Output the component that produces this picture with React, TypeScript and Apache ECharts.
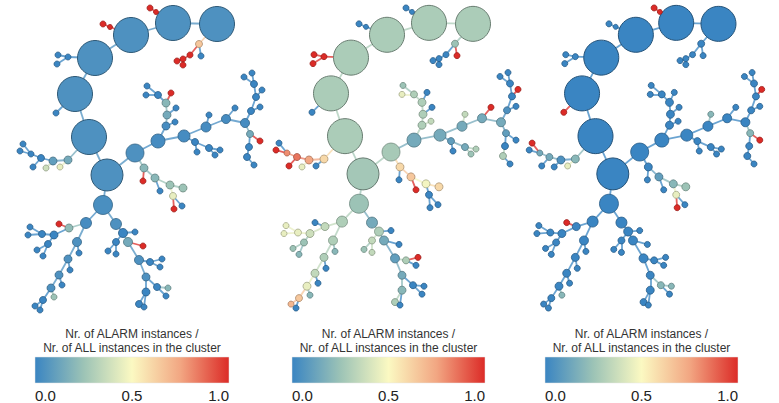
import React, { useEffect, useRef } from 'react';
import * as echarts from 'echarts';

// Tree layout (shared by the three panels): [id, parent, x, y, diameter]
const NODES: [string, string, number, number, number][] = [
  // spine of large clusters
  ['C1', '', 217, 24, 35], ['C2', 'C1', 173, 23, 35], ['C3', 'C2', 131, 35, 35],
  ['C4', 'C3', 95, 58, 35], ['C5', 'C4', 75, 94, 35], ['C6', 'C5', 89, 137, 35],
  ['C7', 'C6', 107, 175, 32], ['C8', 'C7', 103, 205, 19], ['H', 'C7', 135, 153, 18],
  // leaves on the spine
  ['L1a', 'C1', 199, 44, 7], ['L1b', 'L1a', 190, 55, 6], ['L1c', 'L1a', 201, 56, 6],
  ['L1d', 'L1b', 183, 59, 6], ['L1e', 'L1d', 177, 61, 6], ['L1f', 'L1d', 183, 65, 6],
  ['L2a', 'C2', 156, 12, 5], ['L2b', 'L2a', 150, 8, 6],
  ['L3a', 'C3', 110, 27, 5], ['L3b', 'L3a', 103, 24, 6],
  ['L4a', 'C4', 68, 57, 6], ['L4b', 'L4a', 58, 55, 6], ['L4c', 'L4a', 57, 64, 6],
  ['L5', 'C5', 56, 113, 6],
  // left chain
  ['K1', 'C6', 68, 160, 8], ['K2', 'K1', 53, 161, 8], ['K3', 'K1', 60, 167, 6],
  ['K4', 'K2', 46, 168, 6], ['K5', 'K2', 41, 158, 7], ['K6', 'K5', 31, 154, 6],
  ['K7', 'K6', 20, 151, 6], ['K8', 'K6', 23, 144, 6], ['K9', 'K5', 33, 167, 6],
  // lower-left branch
  ['B1', 'C8', 86, 223, 11], ['B2', 'B1', 69, 228, 8], ['B3', 'B2', 59, 224, 6],
  ['B4', 'B2', 54, 235, 8], ['B5', 'B4', 42, 234, 7], ['B6', 'B5', 30, 227, 6],
  ['B7', 'B5', 28, 235, 6], ['B8', 'B4', 48, 244, 7], ['B9', 'B8', 37, 250, 6],
  ['B10', 'B8', 43, 256, 6],
  ['D1', 'B1', 77, 242, 9], ['D2', 'D1', 79, 253, 6], ['D3', 'D1', 68, 259, 8],
  ['D4', 'D3', 70, 270, 6], ['D5', 'D3', 59, 275, 8], ['D6', 'D5', 62, 285, 6],
  ['D7', 'D5', 51, 288, 8], ['D8', 'D7', 54, 297, 6], ['D9', 'D7', 43, 300, 7],
  ['D10', 'D9', 35, 306, 6], ['D11', 'D9', 40, 310, 6],
  // lower-right branch
  ['E1', 'C8', 116, 224, 11], ['E2', 'E1', 123, 233, 9], ['E3', 'E2', 135, 232, 6],
  ['E4', 'E2', 128, 242, 9], ['E5', 'E4', 143, 246, 6], ['E6', 'E2', 116, 242, 7],
  ['E7', 'E6', 108, 251, 6], ['E8', 'E6', 116, 254, 6], ['E9', 'E4', 139, 260, 9],
  ['E10', 'E9', 150, 262, 7], ['E11', 'E10', 162, 259, 6], ['E12', 'E10', 160, 267, 6],
  ['E13', 'E9', 146, 277, 8], ['E14', 'E13', 157, 287, 7], ['E15', 'E14', 168, 288, 6],
  ['E16', 'E14', 166, 296, 6], ['E17', 'E13', 146, 292, 8], ['E18', 'E17', 139, 304, 7],
  ['E19', 'E17', 144, 307, 6],
  // right branch
  ['H1', 'H', 158, 141, 14], ['H2', 'H1', 184, 136, 12], ['H3', 'H2', 206, 127, 10],
  ['H4', 'H3', 226, 119, 9], ['H5', 'H4', 245, 123, 9],
  ['V1', 'H1', 166, 126, 8], ['V2', 'V1', 167, 115, 8], ['V3', 'V2', 166, 103, 8],
  ['V4', 'V3', 158, 95, 7], ['V5', 'V4', 147, 86, 6], ['V6', 'V4', 146, 95, 6],
  ['V7', 'V3', 171, 93, 6], ['V8', 'V1', 175, 122, 6], ['V9', 'V2', 176, 108, 6],
  ['W1', 'H2', 195, 142, 7], ['W2', 'W1', 197, 152, 6], ['W3', 'W1', 209, 148, 7],
  ['W4', 'W3', 215, 155, 6], ['W5', 'W3', 220, 150, 6],
  ['X1', 'H3', 209, 115, 6], ['X2', 'H4', 235, 108, 6],
  ['R1', 'H5', 251, 111, 7], ['R1b', 'R1', 260, 107, 6], ['R2', 'R1', 256, 97, 7],
  ['R2b', 'R2', 262, 90, 6], ['R3', 'R2', 254, 84, 7], ['R4', 'R3', 252, 73, 6],
  ['R5', 'R3', 244, 77, 6],
  ['S1', 'H5', 250, 134, 7], ['S1b', 'S1', 260, 141, 6], ['S2', 'S1', 249, 147, 7],
  ['S3', 'S2', 247, 157, 7], ['S4', 'S3', 254, 165, 6],
  // middle branch below H
  ['G1', 'H', 144, 168, 8], ['G2', 'G1', 143, 181, 6], ['G3', 'G1', 155, 178, 8],
  ['G4', 'G3', 160, 191, 6], ['G5', 'G3', 170, 185, 8], ['G6', 'G5', 183, 188, 8],
  ['G7', 'G5', 173, 196, 7], ['G8', 'G7', 174, 209, 6], ['G9', 'G7', 182, 206, 6],
];

// ALARM ratio per node, panel 1 (same order as NODES)
const VALUES_P1: number[] = [
  0.05, 0.05, 0.05, 0.05, 0.05, 0.05, 0.05, 0.04, 0.05,
  0.65, 1, 0, 1, 1, 1, 1, 1, 1, 1, 0, 0, 0, 0,
  0.15, 0.1, 0.45, 0.38, 0, 0, 0, 0, 0,
  0.03, 0.22, 1, 0, 0, 0, 0, 0, 0, 0,
  0.05, 0, 0.05, 0, 0.05, 0, 0.05, 0.25, 0, 0, 0,
  0.05, 0, 0, 0.15, 1, 0, 0, 0, 0.05, 0, 0, 0, 0.05, 0, 0.2, 0, 0, 0, 0,
  0.03, 0.03, 0.03, 0.03, 0.03,
  0.03, 0.15, 0.2, 0, 0, 0, 1, 0, 0,
  0, 0, 0, 0, 0, 0, 0,
  0, 0, 0, 0, 0, 0, 0,
  0.15, 1, 0, 0, 0,
  0.2, 1, 0.2, 0, 0.25, 0.25, 0.45, 1, 0,
];

// panel 2
const VALUES_P2: number[] = [
  0.29, 0.29, 0.29, 0.29, 0.29, 0.29, 0.27, 0.25, 0.28,
  0.25, 0, 1, 0, 0, 0, 0, 0, 0, 0, 1, 1, 1, 0,
  0.6, 0.75, 0, 0.45, 0.85, 0.8, 1, 0, 1,
  0.3, 0.35, 0, 0.38, 0.45, 0.45, 0.45, 0.25, 0.25, 0.2,
  0.3, 0.2, 0.3, 0, 0.35, 0, 0.45, 0.2, 0.65, 0.7, 0,
  0.15, 0.3, 0, 0.15, 0, 0.35, 0.25, 0.35, 0.1, 0.3, 1, 0, 0.15, 0, 0, 0, 0.2, 0.3, 0,
  0.15, 0.15, 0.15, 0.15, 0.15,
  0.3, 0.3, 0.3, 0.3, 0.25, 0.45, 0, 0.35, 0,
  0.1, 0, 0.15, 0.25, 0.3, 0.35, 1,
  0.05, 0, 0, 1, 0, 0, 0,
  0.1, 0, 0, 0.3, 0,
  0.6, 0, 0.65, 1, 0.48, 0.6, 0, 0, 0,
];

// panel 3
const VALUES_P3: number[] = [
  0, 0, 0, 0, 0, 0, 0, 0, 0,
  0, 0, 0, 0, 0, 0, 1, 1, 0, 0, 0, 0, 0, 1,
  0.2, 0.05, 0.45, 0, 0.15, 0.15, 0, 1, 0,
  0, 0, 1, 0, 0, 0, 0, 0, 0, 0,
  0, 0, 0, 0, 0, 0, 0, 0.2, 0, 0, 0,
  0, 0, 0, 0, 0, 0, 0, 0, 0, 0, 0, 0, 0, 0.2, 0.2, 0, 0, 0, 0,
  0, 0, 0, 0, 0,
  0, 0, 0, 0, 0, 0, 0, 0, 0,
  0, 0, 0, 0, 0, 0.2, 0,
  0, 0, 0, 1, 0, 0, 0,
  0.2, 1, 0, 0, 0,
  0, 0, 0.1, 0, 0.2, 0.25, 0.45, 1, 0,
];

const PANEL_VALUES = [VALUES_P1, VALUES_P2, VALUES_P3];
const PANEL_LEFT = [0, 256, 510];
const PANEL_TOP = [0, -2, -2];
const BAR_LEFT = [35, 292, 545];
const BAR_WIDTH = [194, 193, 193];
const COLORBAR_TICKS = [0, 0.5, 1];
const COLOR_STOPS: [number, string][] = [
  [0, '#3a85c2'], [0.25, '#9cc3b6'], [0.5, '#fbf9c2'], [0.75, '#f2a682'], [1, '#dc2b27'],
];
const TITLE_LINES = ['Nr. of ALARM instances /', 'Nr. of ALL instances in the cluster'];

function hexToRgb(h: string): number[] {
  const n = parseInt(h.slice(1), 16);
  return [(n >> 16) & 255, (n >> 8) & 255, n & 255];
}
function rgbAt(v: number): number[] {
  for (let i = 0; i < COLOR_STOPS.length - 1; i++) {
    const [a, ca] = COLOR_STOPS[i];
    const [b, cb] = COLOR_STOPS[i + 1];
    if (v <= b || i === COLOR_STOPS.length - 2) {
      const t = Math.max(0, Math.min(1, (v - a) / (b - a)));
      const A = hexToRgb(ca), B = hexToRgb(cb);
      return A.map((x, k) => Math.round(x + (B[k] - x) * t));
    }
  }
  return hexToRgb(COLOR_STOPS[0][1]);
}
const rgbStr = (c: number[]) => `rgb(${c[0]},${c[1]},${c[2]})`;
const darker = (c: number[], f: number) => c.map((x) => Math.round(x * f));

export default function App() {
  const ref = useRef<HTMLDivElement>(null);
  useEffect(() => {
    if (!ref.current) return;
    const chart = echarts.init(ref.current, undefined, { renderer: 'svg' });
    const font = 'Liberation Sans, Arial, Helvetica, sans-serif';

    const grids: any[] = [];
    const xAxes: any[] = [];
    const yAxes: any[] = [];
    const series: any[] = [];
    const graphics: any[] = [];

    PANEL_VALUES.forEach((vals, p) => {
      grids.push({ left: PANEL_LEFT[p], top: PANEL_TOP[p], width: 280, height: 320, show: false });
      xAxes.push({ gridIndex: p, type: 'value', min: 0, max: 280, show: false });
      yAxes.push({ gridIndex: p, type: 'value', min: 0, max: 320, inverse: true, show: false });
      const colors = vals.map((v) => rgbAt(v));
      const idx: Record<string, number> = {};
      NODES.forEach((n, i) => (idx[n[0]] = i));
      series.push({
        type: 'graph',
        coordinateSystem: 'cartesian2d',
        xAxisIndex: p,
        yAxisIndex: p,
        silent: true,
        label: { show: false },
        emphasis: { disabled: true },
        data: NODES.map(([id, , x, y, d], i) => ({
          name: id,
          value: [x, y],
          symbol: 'circle',
          symbolSize: d,
          itemStyle: {
            color: rgbStr(colors[i]),
            borderColor: rgbStr(darker(colors[i], d > 20 ? 0.62 : 0.7)),
            borderWidth: d > 20 ? 1 : 0.8,
          },
        })),
        links: NODES.filter((n) => n[1]).map(([id, parent]) => ({
          source: parent,
          target: id,
          lineStyle: { color: rgbStr(colors[idx[id]]), width: 1.8, opacity: 0.75, curveness: 0 },
        })),
      });
    });

    // colour bars
    PANEL_VALUES.forEach((_, p) => {
      const g = 3 + p;
      grids.push({
        left: BAR_LEFT[p], top: 357, width: BAR_WIDTH[p], height: 26, show: true,
        borderColor: '#e6e6e6', borderWidth: 0.5,
        backgroundColor: new echarts.graphic.LinearGradient(0, 0, 1, 0,
          COLOR_STOPS.map(([o, c]) => ({ offset: o, color: c }))),
      });
      xAxes.push({
        gridIndex: g, type: 'value', min: COLORBAR_TICKS[0], max: COLORBAR_TICKS[COLORBAR_TICKS.length - 1],
        interval: COLORBAR_TICKS[1] - COLORBAR_TICKS[0],
        axisLine: { show: false }, axisTick: { show: false }, splitLine: { show: false },
        axisLabel: {
          fontSize: 15, color: '#222', margin: 5, fontFamily: font,
          formatter: (v: number) => v.toFixed(1),
          alignMinLabel: 'left', alignMaxLabel: 'right',
        },
      });
      yAxes.push({ gridIndex: g, type: 'value', show: false, min: 0, max: 1 });
      const cx = BAR_LEFT[p] + BAR_WIDTH[p] / 2;
      TITLE_LINES.forEach((t, k) => {
        graphics.push({
          type: 'text', x: cx, y: 334 + k * 13.5, silent: true,
          style: { text: t, align: 'center', verticalAlign: 'middle', fontSize: 12, fontFamily: font, fill: '#333' },
        });
      });
    });

    chart.setOption({
      animation: false,
      backgroundColor: '#ffffff',
      grid: grids,
      xAxis: xAxes,
      yAxis: yAxes,
      series,
      graphic: graphics,
    });
    return () => chart.dispose();
  }, []);
  return <div ref={ref} style={{ position: 'absolute', left: 0, top: 0, width: 779, height: 403 }} />;
}
